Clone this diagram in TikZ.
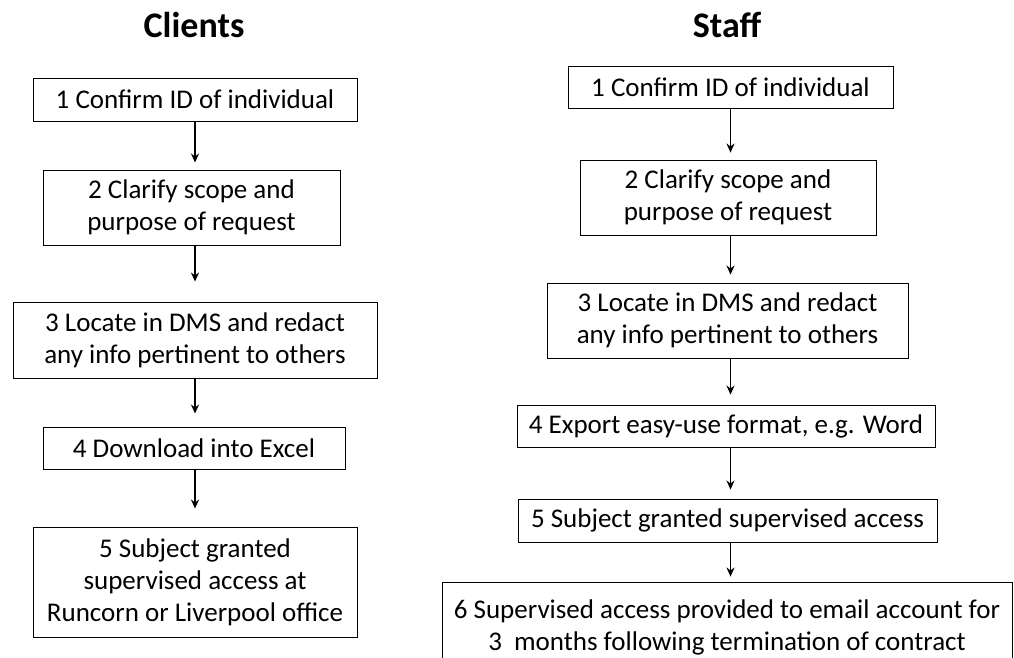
\documentclass[tikz,border=0pt]{standalone}
\usepackage{fontspec}
\setmainfont{Carlito}
\usetikzlibrary{arrows.meta}
\begin{document}
\begin{tikzpicture}[x=1pt,y=-1pt,
  stepbox/.style={draw=black, line width=0.9pt, rectangle, align=center, inner sep=0pt,
    font=\fontsize{27}{32}\selectfont},
  coltitle/.style={font=\fontsize{36}{40}\selectfont\bfseries, anchor=base},
  arr/.style={-{Stealth[length=9pt,width=8pt]}, line width=1.8pt}]
\useasboundingbox (0,0) rectangle (1014,657);
\clip (0,0) rectangle (1014,657);
\fill[white] (0,0) rectangle (1014,657);

% Clients column
\node[coltitle] (tc) at (194,37) {Clients};
\node[stepbox, minimum width=324pt, minimum height=43pt] (c1) at (195,99.5) {1 Confirm ID of individual};
\node[stepbox, minimum width=297pt, minimum height=75pt] (c2) at (191.5,207.5) {2 Clarify scope and\\purpose of request};
\node[stepbox, minimum width=364pt, minimum height=76pt] (c3) at (195,340) {3 Locate in DMS and redact\\any info pertinent to others};
\node[stepbox, minimum width=302pt, minimum height=42pt] (c4) at (194,448) {4 Download into Excel};
\node[stepbox, minimum width=324pt, minimum height=110pt] (c5) at (195,582) {5 Subject granted\\supervised access at\\Runcorn or Liverpool office};

\draw[arr, shorten >=7pt]  (c1.south) -- (c1.south |- c2.north);
\draw[arr, shorten >=20pt] (c1.south |- c2.south) -- (c1.south |- c3.north);
\draw[arr, shorten >=13pt] (c1.south |- c3.south) -- (c1.south |- c4.north);
\draw[arr, shorten >=18pt] (c1.south |- c4.south) -- (c1.south |- c5.north);

% Staff column
\node[coltitle] (ts) at (727,37) {Staff};
\node[stepbox, minimum width=325pt, minimum height=42pt] (s1) at (730.5,87) {1 Confirm ID of individual};
\node[stepbox, minimum width=296pt, minimum height=75pt] (s2) at (728,197.5) {2 Clarify scope and\\purpose of request};
\node[stepbox, minimum width=361pt, minimum height=75pt] (s3) at (727.5,320.5) {3 Locate in DMS and redact\\any info pertinent to others};
\node[stepbox, minimum width=418pt, minimum height=42pt] (s4) at (726,426) {4 Export easy-use format, e.g. Word};
\node[stepbox, minimum width=419pt, minimum height=43pt] (s5) at (727.5,520.5) {5 Subject granted supervised access};
\node[stepbox, minimum width=570pt, minimum height=90pt] (s6) at (727,627) {6 Supervised access provided to email account for\\3\ \ months following termination of contract};

\draw[arr, shorten >=7pt]  (s1.south) -- (s1.south |- s2.north);
\draw[arr, shorten >=8pt]  (s1.south |- s2.south) -- (s1.south |- s3.north);
\draw[arr, shorten >=10pt] (s1.south |- s3.south) -- (s1.south |- s4.north);
\draw[arr, shorten >=9pt]  (s1.south |- s4.south) -- (s1.south |- s5.north);
\draw[arr, shorten >=5pt]  (s1.south |- s5.south) -- (s1.south |- s6.north);
\end{tikzpicture}
\end{document}
